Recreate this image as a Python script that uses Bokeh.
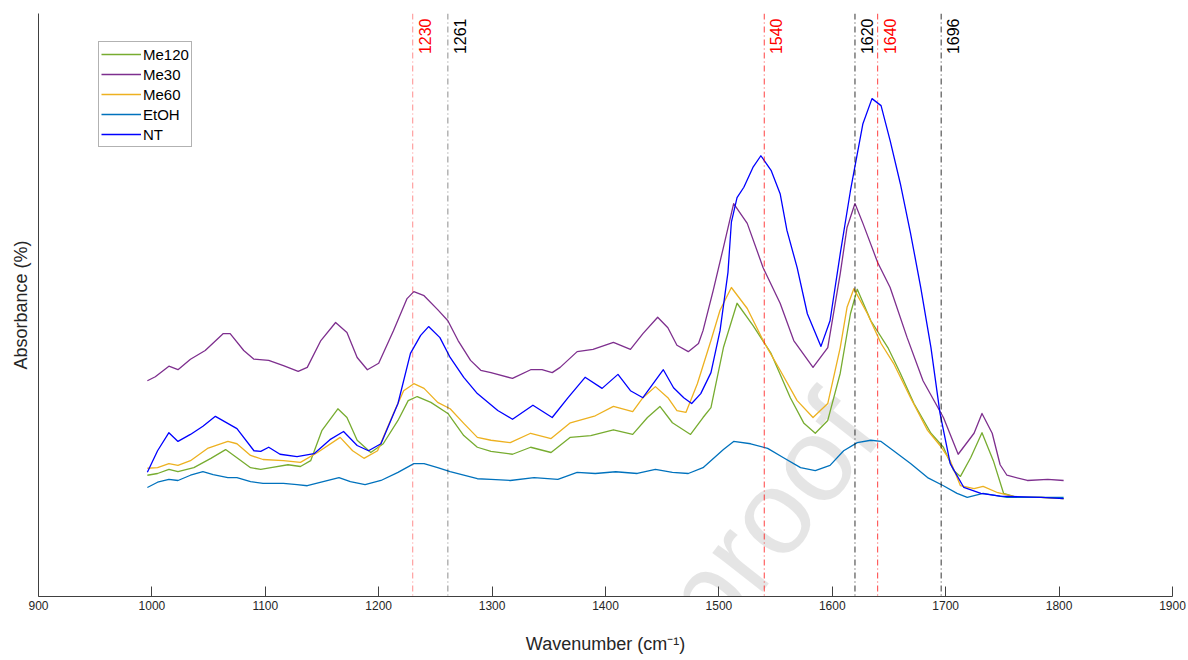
import math
from bokeh.plotting import figure
from bokeh.models import Range1d, FixedTicker, Legend, LegendItem, Span, Label, ColumnDataSource
from bokeh.core.properties import value
from bokeh.embed import file_html
from bokeh.resources import INLINE

FONT = "Liberation Sans"

# ---------------- data ----------------
wn_me120 = [996, 1005, 1015, 1023, 1037, 1052, 1065, 1075, 1087, 1096, 1105, 1120, 1131, 1140, 1150, 1164, 1172,
            1181, 1193, 1204, 1217, 1226, 1234, 1246, 1261, 1275, 1287, 1299, 1318, 1334, 1352, 1369, 1387, 1407,
            1424, 1437, 1448, 1459, 1475, 1486, 1493, 1504, 1516, 1530, 1546, 1563, 1575, 1585, 1596, 1607, 1616,
            1622, 1634, 1649, 1660, 1672, 1687, 1698, 1707, 1713, 1722, 1732, 1742, 1751, 1763, 1784, 1804]
abs_me120 = [20.8, 21.1, 21.8, 21.4, 22.1, 23.7, 25.2, 23.8, 22.1, 21.8, 22.1, 22.6, 22.3, 23.3, 28.5, 32.2, 30.7,
             26.8, 24.7, 26.2, 30.2, 33.6, 34.3, 33.3, 31.4, 27.6, 25.6, 24.9, 24.4, 25.6, 24.7, 27.3, 27.6, 28.6,
             27.8, 30.7, 32.6, 29.8, 27.8, 30.7, 32.4, 42.7, 50.3, 46.5, 41.7, 34.1, 29.7, 28.0, 30.2, 38.3, 48.5,
             52.7, 47.3, 42.7, 38.3, 33.1, 28.0, 25.6, 21.6, 20.6, 23.8, 28.1, 23.3, 17.7, 17.0, 17.0, 16.8]

wn_me30 = [996, 1003, 1015, 1023, 1034, 1047, 1063, 1069, 1081, 1090, 1103, 1116, 1129, 1137, 1149, 1162, 1172,
           1181, 1190, 1200, 1213, 1225, 1231, 1240, 1252, 1261, 1270, 1281, 1290, 1299, 1318, 1334, 1344, 1353,
           1360, 1375, 1389, 1407, 1422, 1433, 1446, 1455, 1463, 1473, 1482, 1486, 1495, 1504, 1513, 1525, 1539,
           1554, 1566, 1583, 1596, 1607, 1613, 1620, 1627, 1640, 1651, 1666, 1680, 1698, 1711, 1725, 1732, 1741,
           1748, 1754, 1772, 1790, 1804]
abs_me30 = [37.0, 37.7, 39.5, 38.9, 40.7, 42.2, 45.1, 45.1, 42.2, 40.7, 40.5, 39.6, 38.6, 39.3, 43.9, 47.0, 45.3,
            41.0, 38.9, 40.0, 45.6, 51.1, 52.3, 51.6, 49.2, 47.3, 43.9, 40.5, 38.8, 38.4, 37.4, 38.9, 38.9, 38.4,
            39.3, 42.0, 42.4, 43.6, 42.4, 45.1, 47.9, 46.1, 43.1, 42.0, 43.4, 45.6, 52.5, 59.9, 67.4, 64.0, 56.4,
            50.3, 43.9, 39.3, 42.7, 55.4, 63.3, 67.4, 64.0, 57.3, 53.0, 44.4, 37.0, 30.7, 24.4, 28.0, 31.4, 28.0,
            22.6, 20.8, 19.9, 20.1, 19.9]

wn_me60 = [996, 1005, 1015, 1023, 1034, 1049, 1067, 1075, 1087, 1098, 1116, 1131, 1146, 1166, 1177, 1187, 1199,
           1213, 1222, 1231, 1240, 1252, 1263, 1275, 1287, 1299, 1316, 1334, 1352, 1369, 1391, 1407, 1424, 1433,
           1444, 1455, 1463, 1471, 1481, 1493, 1501, 1511, 1525, 1539, 1554, 1569, 1583, 1596, 1607, 1613, 1619,
           1631, 1643, 1654, 1669, 1684, 1695, 1704, 1713, 1725, 1733, 1746, 1763, 1784, 1804]
abs_me60 = [22.0, 22.1, 22.8, 22.5, 23.3, 25.4, 26.6, 26.2, 24.2, 23.5, 23.3, 23.0, 24.7, 27.3, 25.0, 23.7, 25.0,
            31.4, 35.3, 36.5, 35.7, 33.3, 32.2, 29.7, 27.3, 26.8, 26.4, 28.0, 27.1, 29.8, 31.0, 32.6, 31.7, 34.1,
            36.0, 34.1, 31.9, 31.6, 36.5, 43.9, 49.1, 53.0, 49.4, 43.9, 38.8, 33.6, 30.7, 33.1, 42.7, 49.6, 52.8,
            48.5, 43.4, 40.0, 34.1, 28.5, 25.9, 23.3, 19.0, 18.5, 18.9, 17.8, 17.0, 17.0, 16.8]

wn_etoh = [996, 1005, 1015, 1023, 1034, 1045, 1054, 1067, 1075, 1087, 1098, 1116, 1128, 1137, 1151, 1165, 1175,
           1188, 1202, 1217, 1231, 1240, 1252, 1263, 1275, 1287, 1299, 1316, 1337, 1358, 1375, 1391, 1409, 1428,
           1444, 1459, 1473, 1486, 1504, 1513, 1528, 1543, 1557, 1572, 1585, 1598, 1610, 1622, 1634, 1643, 1654,
           1669, 1684, 1698, 1710, 1719, 1733, 1754, 1804]
abs_etoh = [18.7, 19.6, 20.1, 19.9, 20.8, 21.4, 20.9, 20.4, 20.4, 19.7, 19.4, 19.4, 19.2, 19.0, 19.7, 20.4, 19.7,
            19.2, 19.9, 21.3, 22.8, 22.8, 22.1, 21.4, 20.8, 20.2, 20.1, 19.9, 20.4, 20.1, 21.3, 21.1, 21.4, 21.1,
            21.8, 21.3, 21.1, 22.1, 25.2, 26.6, 26.2, 25.4, 23.8, 22.1, 21.6, 22.5, 25.0, 26.4, 26.8, 26.6, 25.0,
            22.8, 20.4, 19.0, 17.7, 17.0, 17.7, 17.0, 17.0]

wn_nt = [996, 1005, 1015, 1023, 1034, 1045, 1056, 1075, 1090, 1096, 1103, 1113, 1128, 1143, 1157, 1169, 1181,
         1191, 1202, 1217, 1228, 1237, 1244, 1254, 1263, 1275, 1287, 1305, 1318, 1336, 1353, 1367, 1382, 1397,
         1411, 1422, 1433, 1442, 1451, 1460, 1469, 1476, 1484, 1493, 1501, 1508, 1511, 1516, 1522, 1530, 1537,
         1546, 1554, 1560, 1569, 1578, 1590, 1598, 1607, 1616, 1627, 1635, 1643, 1651, 1660, 1669, 1678, 1687,
         1695, 1704, 1716, 1731, 1748, 1784, 1804]
abs_nt = [21.3, 25.0, 28.1, 26.6, 27.8, 29.2, 30.9, 28.8, 25.0, 24.9, 25.6, 24.4, 24.0, 24.5, 26.9, 28.3, 25.9,
          25.0, 26.2, 33.1, 41.7, 44.8, 46.3, 44.4, 41.0, 37.6, 34.8, 31.9, 30.4, 32.8, 30.7, 34.1, 37.6, 35.7,
          38.1, 35.3, 34.1, 36.5, 38.9, 35.8, 34.1, 33.1, 34.8, 38.4, 45.6, 55.6, 64.2, 68.4, 70.2, 73.6, 75.6,
          73.1, 69.1, 62.8, 56.4, 48.5, 42.9, 47.3, 58.8, 69.6, 81.1, 85.4, 84.2, 78.2, 70.8, 62.3, 53.0, 42.7,
          31.4, 22.8, 18.7, 17.7, 17.2, 17.0, 16.8]

series_names = ["Me120", "Me30", "Me60", "EtOH", "NT"]
series_colors = ["#77AC30", "#7E2F8E", "#EDB120", "#0072BD", "#0000FF"]

marker_wn = [1230, 1261, 1540, 1620, 1640, 1696]
marker_colors = ["#ff0000", "#000000", "#ff0000", "#000000", "#ff0000", "#000000"]
marker_alpha = [0.45, 0.45, 0.75, 0.8, 0.75, 0.8]

x_ticks = [900, 1000, 1100, 1200, 1300, 1400, 1500, 1600, 1700, 1800, 1900]
x_lo, x_hi = 900, 1900
y_lo, y_hi = 0, 100

# ---------------- figure ----------------
p = figure(width=1188, height=660, output_backend="svg", toolbar_location=None,
           x_range=Range1d(x_lo, x_hi), y_range=Range1d(y_lo, y_hi),
           min_border_left=38, min_border_right=16, min_border_top=13, min_border_bottom=64)
p.background_fill_color = "white"
p.border_fill_color = "white"
p.outline_line_color = None
p.xgrid.visible = False
p.ygrid.visible = False

AX = "#262626"
xa = p.xaxis[0]
xa.ticker = FixedTicker(ticks=x_ticks)
xa.axis_line_color = "#404040"
xa.major_tick_line_color = "#404040"
xa.major_tick_in = 10
xa.major_tick_out = 0
xa.minor_tick_line_color = None
xa.major_label_text_font = FONT
xa.major_label_text_font_size = "12px"
xa.major_label_text_color = AX
xa.major_label_standoff = 4
xa.axis_label = "Wavenumber (cm\u207b\u00b9)"
xa.axis_label_text_font = FONT
xa.axis_label_text_font_size = "18px"
xa.axis_label_text_font_style = "normal"
xa.axis_label_text_color = AX
xa.axis_label_standoff = 21

ya = p.yaxis[0]
ya.ticker = FixedTicker(ticks=[])
ya.axis_line_color = "#404040"
ya.major_tick_line_color = None
ya.minor_tick_line_color = None
ya.axis_label = "Absorbance (%)"
ya.axis_label_text_font = FONT
ya.axis_label_text_font_size = "18px"
ya.axis_label_text_font_style = "normal"
ya.axis_label_text_color = AX
ya.axis_label_standoff = 8

# watermark (faint, beneath the spectra)
wm = Label(x=1617, y=32.1, text="Journal Pre-proof", angle=math.radians(52),
           text_align="right", text_baseline="alphabetic", text_font=FONT,
           text_font_size="120px", text_color="#000000", text_alpha=0.1, level="underlay")
p.add_layout(wm)

# reference marker lines
for wnv, c, a in zip(marker_wn, marker_colors, marker_alpha):
    p.add_layout(Span(location=wnv, dimension="height", line_color=c, line_alpha=a,
                      line_width=1, line_dash="6 3 1 3"))

msrc = ColumnDataSource(dict(x=marker_wn, y=[y_hi] * len(marker_wn),
                             text=[str(v) for v in marker_wn], color=marker_colors))
p.text(x="x", y="y", text="text", source=msrc, text_color="color", angle=math.pi / 2,
       text_align="right", text_baseline="top", x_offset=6, y_offset=5,
       text_font=value(FONT), text_font_size="16px")

# spectra
all_wn = [wn_me120, wn_me30, wn_me60, wn_etoh, wn_nt]
all_abs = [abs_me120, abs_me30, abs_me60, abs_etoh, abs_nt]
renderers = []
for wnl, al, c in zip(all_wn, all_abs, series_colors):
    r = p.line(wnl, al, line_color=c, line_width=1.3, line_join="round")
    renderers.append(r)

legend = Legend(items=[LegendItem(label=n, renderers=[r]) for n, r in zip(series_names, renderers)],
                location=(60, 449), padding=2, spacing=0, glyph_width=40, glyph_height=20,
                label_height=20, label_standoff=2, label_text_font=FONT, label_text_font_size="15px",
                label_text_color="#000000", border_line_color="#666666", border_line_width=1,
                background_fill_color="white", background_fill_alpha=1.0, margin=0)
p.add_layout(legend, "center")

open("out.html", "w").write(file_html(p, INLINE))
